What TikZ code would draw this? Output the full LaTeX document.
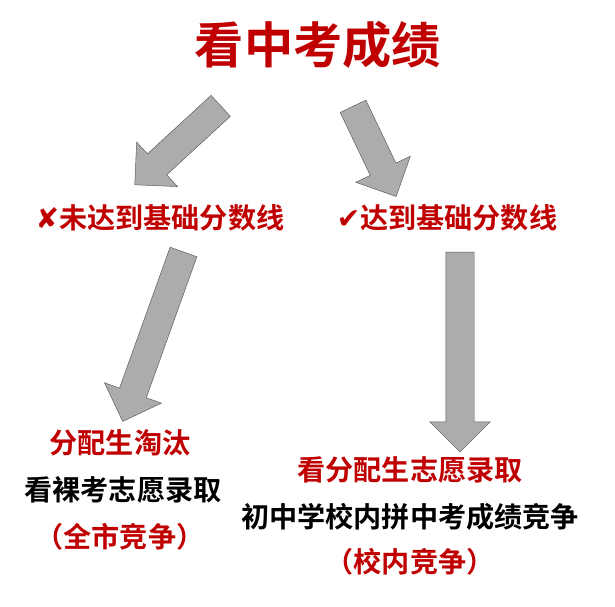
\documentclass[tikz,border=0pt]{standalone}
\usepackage{fontspec}
\newfontfamily\cjk{Noto Sans CJK SC}[BoldFont={Noto Sans CJK SC Bold}]
\newfontfamily\sym{DejaVu Sans}
\usetikzlibrary{positioning,shapes.arrows}
\definecolor{darkred}{RGB}{192,0,0}
\tikzset{
  txt/.style={font=\cjk\bfseries\fontsize{24}{28}\selectfont, inner sep=0pt},
  redtxt/.style={txt, text=darkred},
  bigarrow/.style={single arrow, draw=gray!70!black, fill=gray!65, inner sep=0pt,
    text height=0.84cm, text depth=0pt, single arrow head extend=0.48cm,
    single arrow head indent=0pt, sloped, midway}
}
\begin{document}
\begin{tikzpicture}[x=0.03cm,y=-0.03cm]
  \useasboundingbox (0,0) rectangle (615,606);
  % headings
  \node[redtxt, font=\cjk\bfseries\fontsize{42}{48}\selectfont] (title) at (318,45) {看中考成绩};
  \node[redtxt] (fail) at (160,218) {{\sym ✘}未达到基础分数线};
  \node[redtxt] (pass) at (447,218) {{\sym ✔}达到基础分数线};
  % left branch
  \node[redtxt] (l1) at (120,443) {分配生淘汰};
  \node[txt] (l2) at (123,490) {看裸考志愿录取};
  \node[redtxt] (l3) at (120,537) {（全市竞争）};
  % right branch
  \node[redtxt] (r1) at (410,470) {看分配生志愿录取};
  \node[txt] (r2) at (410,517) {初中学校内拼中考成绩竞争};
  \node[redtxt] (r3) at (410,562) {（校内竞争）};
  % arrows
  \coordinate (a1) at (226,101); \coordinate (b1) at (140,180);
  \coordinate (a2) at (350,100); \coordinate (b2) at (393,190);
  \coordinate (a3) at (186,245); \coordinate (b3) at (125,415);
  \coordinate (a4) at (460,245); \coordinate (b4) at (460,445);
  \path (a1) -- (b1) node[bigarrow, minimum height=3.5cm, rotate=180] {};
  \path (a2) -- (b2) node[bigarrow, minimum height=3.0cm] {};
  \path (a3) -- (b3) node[bigarrow, minimum height=5.4cm, rotate=180] {};
  \path (a4) -- (b4) node[bigarrow, minimum height=6.0cm] {};
\end{tikzpicture}
\end{document}
